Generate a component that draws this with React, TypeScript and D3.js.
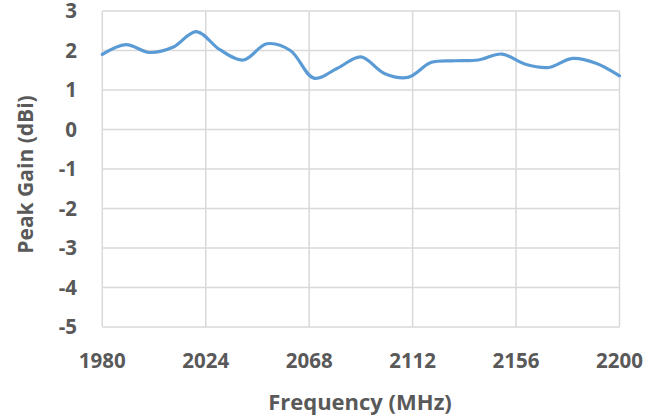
import React from "react";
import * as d3 from "d3";

const freqs = [1980, 1990, 2000, 2010, 2020, 2030, 2040, 2050, 2060, 2070, 2080, 2090, 2100, 2110, 2120, 2130, 2140, 2150, 2160, 2170, 2180, 2190, 2200];
const gains = [1.90, 2.15, 1.95, 2.08, 2.48, 2.02, 1.76, 2.17, 2.00, 1.30, 1.55, 1.84, 1.42, 1.32, 1.70, 1.74, 1.76, 1.91, 1.65, 1.57, 1.80, 1.68, 1.36];
const xTicks = [1980, 2024, 2068, 2112, 2156, 2200];
const yTicks = [3, 2, 1, 0, -1, -2, -3, -4, -5];

const W = 659, H = 415;
const left = 102.3, right = 619.5, top = 11, bottom = 327;
const font = "'Open Sans', sans-serif";
const textColor = "#595959";

export default function App() {
  const x = d3.scaleLinear().domain([1980, 2200]).range([left, right]);
  const y = d3.scaleLinear().domain([-5, 3]).range([bottom, top]);
  const line = d3
    .line<number>()
    .x((_, i) => x(freqs[i]))
    .y((d) => y(d))
    .curve(d3.curveCatmullRom.alpha(0.5));
  return (
    <svg width={W} height={H} style={{ position: "absolute", left: 0, top: 0 }}>
      <rect x={0} y={0} width={W} height={H} fill="#fff" />
      {yTicks.map((t) => (
        <line key={"h" + t} x1={left} x2={right} y1={y(t)} y2={y(t)} stroke="#D9D9D9" strokeWidth={1.5} />
      ))}
      {xTicks.map((t) => (
        <line key={"v" + t} x1={x(t)} x2={x(t)} y1={top} y2={bottom} stroke="#D9D9D9" strokeWidth={1.5} />
      ))}
      <path d={line(gains) || ""} fill="none" stroke="#5B9BD5" strokeWidth={3.2} strokeLinecap="round" />
      {yTicks.map((t) => (
        <text key={"yl" + t} x={77} y={y(t)} dy="0.36em" textAnchor="end" fontFamily={font} fontWeight={700} fontSize={20.5} fill={textColor}>
          {t}
        </text>
      ))}
      {xTicks.map((t) => (
        <text key={"xl" + t} x={x(t)} y={361} dy="0.36em" textAnchor="middle" fontFamily={font} fontWeight={700} fontSize={20.5} fill={textColor}>
          {t}
        </text>
      ))}
      <text x={360} y={402.5} dy="0.36em" textAnchor="middle" fontFamily={font} fontWeight={700} fontSize={22} fill={textColor}>
        Frequency (MHz)
      </text>
      <text transform={`translate(25,174.5) rotate(-90)`} dy="0.36em" textAnchor="middle" fontFamily={font} fontWeight={700} fontSize={21} fill={textColor}>
        Peak Gain (dBi)
      </text>
    </svg>
  );
}
